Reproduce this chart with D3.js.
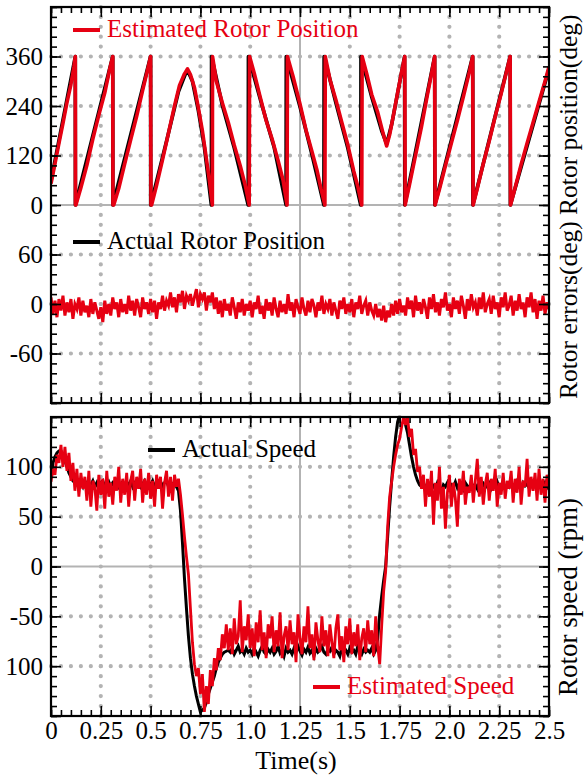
<!DOCTYPE html>
<html>
<head>
<meta charset="utf-8">
<script src="https://cdn.jsdelivr.net/npm/d3@7"></script>
<style>
    body { margin: 0; background: #fff; }
    svg { display: block; }
    text { font-family: "Liberation Serif", "Times New Roman", serif; }
</style>
</head>
<body>
<div id="chart"></div>
<script>
// ---- data ----
var timeTicks = [0, 0.25, 0.5, 0.75, 1.0, 1.25, 1.5, 1.75, 2.0, 2.25, 2.5];
var timeTickLabels = ['0', '0.25', '0.5', '0.75', '1.0', '1.25', '1.5', '1.75', '2.0', '2.25', '2.5'];
var posTicks = [0, 120, 240, 360];
var posTickLabels = ['0', '120', '240', '360'];
var errTicks = [-60, 0, 60];
var errTickLabels = ['-60', '0', '60'];
var speedTicks = [-100, -50, 0, 50, 100];
var speedTickLabels = ['100', '-50', '0', '50', '100'];

// rotor position (deg), [time s, angle]
var posEst = [
    [0, 52], [0.02, 100], [0.04, 150], [0.06, 198], [0.08, 248], [0.10, 292], [0.115, 335], [0.122, 360], [0.123, 0],
    [0.125, 0], [0.15, 42], [0.18, 96], [0.21, 160], [0.24, 218], [0.27, 272], [0.295, 330], [0.31, 360], [0.311, 0],
    [0.315, 0], [0.34, 40], [0.37, 100], [0.40, 158], [0.43, 215], [0.46, 278], [0.485, 328], [0.50, 360], [0.502, 0],
    [0.505, 0], [0.53, 48], [0.56, 110], [0.59, 175], [0.62, 240], [0.645, 290], [0.67, 318], [0.685, 330], [0.70, 316],
    [0.72, 285], [0.74, 235], [0.76, 180], [0.78, 112], [0.795, 60], [0.81, 0], [0.811, 360],
    [0.83, 300], [0.86, 248], [0.89, 200], [0.92, 145], [0.95, 95], [0.975, 48], [0.995, 0], [0.997, 360],
    [1.02, 320], [1.05, 262], [1.08, 205], [1.11, 160], [1.14, 108], [1.165, 60], [1.185, 0], [1.187, 360],
    [1.215, 312], [1.25, 245], [1.28, 182], [1.31, 130], [1.335, 85], [1.355, 40], [1.375, 0], [1.377, 360],
    [1.40, 305], [1.43, 255], [1.46, 200], [1.49, 146], [1.52, 82], [1.54, 45], [1.56, 0], [1.562, 360],
    [1.585, 318], [1.61, 268], [1.64, 225], [1.665, 178], [1.685, 143], [1.70, 170], [1.72, 220], [1.74, 272],
    [1.76, 322], [1.776, 360], [1.778, 0],
    [1.80, 50], [1.83, 120], [1.86, 190], [1.89, 268], [1.91, 318], [1.926, 360], [1.928, 0],
    [1.95, 38], [1.98, 95], [2.01, 150], [2.04, 205], [2.07, 262], [2.10, 322], [2.117, 360], [2.119, 0],
    [2.14, 40], [2.17, 100], [2.20, 155], [2.23, 215], [2.26, 270], [2.29, 330], [2.305, 360], [2.307, 0],
    [2.33, 42], [2.36, 98], [2.39, 150], [2.42, 200], [2.45, 250], [2.48, 300], [2.5, 335]
];
var posAct = [
    [0, 58], [0.122, 360], [0.1225, 0], [0.31, 360], [0.3105, 0], [0.50, 360], [0.5005, 0],
    [0.58, 155], [0.64, 275], [0.675, 318], [0.69, 322], [0.71, 300], [0.74, 228], [0.77, 140], [0.805, 0],
    [0.806, 360], [0.86, 242], [0.92, 138], [0.99, 0], [0.991, 360], [1.06, 240], [1.12, 140], [1.18, 0],
    [1.181, 360], [1.25, 238], [1.31, 122], [1.37, 0], [1.371, 360], [1.43, 248], [1.49, 138], [1.555, 0],
    [1.556, 360], [1.61, 262], [1.66, 180], [1.685, 148], [1.71, 195], [1.775, 360], [1.776, 0],
    [1.926, 360], [1.927, 0], [2.117, 360], [2.118, 0], [2.305, 360], [2.306, 0], [2.5, 330]
];

// sampled every 0.01 s from t = 0 to 2.5
var sampleStep = 0.01;
var rotorError = [
    8, -12, 4, -16, 6, -8, 10, -14, 2, -10,
    6, -18, 0, -6, 8, -14, 4, -10, -2, -16,
    6, -12, 2, -8, -18, -4, -22, 4, -12, 0,
    -14, 8, -6, 2, -16, 6, -10, 0, -12, 10,
    -8, 4, -14, 6, -4, -16, 8, -6, 2, -12,
    6, -10, 4, -18, 2, -6, 10, -8, 4, -2,
    14, -4, 8, -10, 12, 2, 16, -6, 10, 4,
    12, -2, 8, 18, -4, 12, 6, 14, -8, 10,
    2, 14, -6, 8, -12, 4, -16, 6, -8, 0,
    -14, 8, -4, -18, 2, -10, 6, -14, 0, -8,
    4, -16, 2, -6, 10, -12, -2, -18, 6, -8,
    2, -14, 8, -6, -16, 4, -10, 0, -12, 12,
    -8, 2, -16, 6, -4, -12, 8, -6, -14, 4,
    -10, 6, -2, -16, 2, -8, 10, -12, 0, -6,
    6, -14, 2, -8, -18, 4, -6, 8, -12, 0,
    -10, 6, -16, 2, -6, 10, -12, -2, 4, -14,
    2, -8, -14, 0, -16, -6, -20, -2, -22, -8,
    -16, 0, -14, 4, -12, 6, -10, -2, -14, 8,
    -6, 4, -16, 10, -8, 2, -12, 6, -4, -18,
    8, -6, 12, -10, 2, -14, 6, -4, 14, -8,
    0, -16, 8, -6, 4, -12, 10, -2, -18, 6,
    -8, 12, -4, 2, -14, 8, -6, 14, -10, 0,
    6, -12, 10, -6, 2, -16, 8, -4, 14, -8,
    -2, 10, -14, 4, -8, 12, -6, 2, -16, 8,
    -4, 14, -10, 6, -18, 4, -8, 10, -12, 2,
    -6
];
var speedEst = [
    85, 98, 92, 112, 104, 122, 100, 120, 96, 114,
    86, 104, 76, 98, 70, 94, 78, 90, 66, 96,
    60, 86, 80, 56, 92, 72, 88, 58, 96, 70,
    84, 62, 90, 76, 100, 64, 88, 72, 94, 60,
    86, 96, 66, 90, 78, 98, 64, 88, 72, 94,
    68, 86, 60, 92, 78, 90, 58, 84, 96, 70,
    90, 66, 92, 80, 88, 72, 52, 30, 10, -8,
    -42, -76, -98, -110, -102, -128, -108, -146, -120, -138,
    -104, -120, -92, -104, -82, -94, -68, -82, -58, -84,
    -62, -88, -52, -78, -70, -34, -86, -60, -74, -48,
    -82, -62, -90, -56, -76, -44, -84, -66, -92, -58,
    -72, -50, -86, -64, -80, -46, -92, -70, -60, -84,
    -54, -78, -66, -96, -48, -72, -88, -60, -76, -40,
    -82, -68, -94, -56, -74, -86, -50, -80, -64, -90,
    -58, -76, -92, -62, -48, -84, -70, -96, -60, -78,
    -52, -88, -66, -80, -58, -94, -72, -62, -86, -54,
    -78, -64, -90, -50, -80, -98, -60, -25, -5, 40,
    70, 85, 100, 112, 122, 128, 140, 150, 142, 150,
    130, 138, 112, 118, 95, 100, 78, 92, 60, 88,
    70, 96, 42, 84, 66, 100, 58, 80, 38, 74,
    92, 60, 84, 68, 40, 88, 72, 96, 62, 80,
    74, 92, 64, 86, 108, 70, 90, 62, 82, 94,
    66, 88, 76, 98, 60, 84, 72, 94, 68, 86,
    78, 96, 64, 88, 74, 100, 62, 86, 80, 108,
    70, 90, 76, 94, 66, 98, 72, 88, 64, 92,
    80
];
var speedAct = [
    90, 104, 110, 114, 116, 116, 112, 106, 100, 94,
    90, 86, 84, 82, 80, 84, 80, 86, 82, 78,
    82, 86, 80, 84, 78, 84, 86, 80, 82, 85,
    80, 84, 82, 86, 80, 83, 85, 79, 84, 82,
    86, 80, 84, 82, 85, 80, 83, 86, 81, 84,
    82, 86, 80, 84, 82, 85, 81, 84, 86, 80,
    84, 82, 85, 80, 76, 56, 24, -12, -42, -70,
    -92, -108, -120, -130, -138, -146, -144, -142, -136, -128,
    -122, -116, -110, -102, -96, -92, -88, -86, -85, -84,
    -86, -82, -88, -84, -80, -86, -84, -88, -82, -86,
    -84, -88, -82, -86, -90, -84, -80, -86, -88, -83,
    -86, -82, -88, -85, -80, -87, -84, -90, -82, -86,
    -84, -88, -82, -86, -80, -85, -89, -83, -86, -81,
    -87, -84, -90, -82, -86, -84, -80, -86, -88, -83,
    -85, -81, -88, -84, -86, -90, -82, -86, -84, -88,
    -82, -86, -84, -88, -80, -85, -88, -83, -86, -84,
    -86, -82, -88, -84, -72, -48, -30, -14, 0, 30,
    60, 86, 110, 130, 145, 152, 152, 150, 142, 134,
    122, 110, 100, 92, 86, 82, 80, 84, 78, 82,
    76, 84, 80, 78, 84, 80, 76, 82, 80, 84,
    78, 82, 80, 85, 79, 83, 80, 77, 84, 81,
    79, 84, 80, 82, 78, 85, 80, 83, 79, 82,
    84, 78, 82, 80, 85, 79, 82, 84, 78, 83,
    80, 84, 79, 82, 86, 80, 78, 84, 81, 83,
    79, 82, 85, 80, 78, 84, 82, 80, 84, 79,
    82
];

// ---- layout ----
var width = 584, height = 778;
var left = 51, right = 549;
var top1 = 7, bottom1 = 403, divs1 = 8;
var top2 = 417, bottom2 = 716, divs2 = 6;
var red = '#e60012', grey = '#b3b3b3';
var tickFont = 25;

var svg = d3.select('#chart').append('svg')
    .attr('width', width)
    .attr('height', height);

var x = d3.scaleLinear().domain([0, 2.5]).range([left, right]);
var div1 = (bottom1 - top1) / divs1;
var yPos = d3.scaleLinear().domain([0, 360]).range([top1 + 4 * div1, top1 + div1]);
var yErr = d3.scaleLinear().domain([-60, 60]).range([top1 + 7 * div1, top1 + 5 * div1]);
var yDiv1 = d3.scaleLinear().domain([0, divs1]).range([bottom1, top1]);
var ySpd = d3.scaleLinear().domain([-150, 150]).range([bottom2, top2]);
var yDiv2 = d3.scaleLinear().domain([0, divs2]).range([bottom2, top2]);

function drawGrid(g, yDiv, nDiv, y0, y1) {
    var xMinorStep = (right - left) / 50;
    var yMinorStep = (y1 - y0) / (nDiv * 5);
    var cx = x(1.25), cy = yDiv(nDiv / 2);
    // dotted division lines
    timeTicks.slice(1, -1).forEach(function (t) {
        if (t === 1.25) return;
        g.append('line')
            .attr('x1', x(t)).attr('x2', x(t)).attr('y1', y0).attr('y2', y1)
            .attr('stroke', grey).attr('stroke-width', 4.2)
            .attr('stroke-linecap', 'round')
            .attr('stroke-dasharray', '0,' + yMinorStep);
    });
    d3.range(1, nDiv).forEach(function (k) {
        if (k === nDiv / 2) return;
        g.append('line')
            .attr('x1', left).attr('x2', right).attr('y1', yDiv(k)).attr('y2', yDiv(k))
            .attr('stroke', grey).attr('stroke-width', 4.2)
            .attr('stroke-linecap', 'round')
            .attr('stroke-dasharray', '0,' + xMinorStep);
    });
    // solid centre cross with small graduation marks
    g.append('line').attr('x1', cx).attr('x2', cx).attr('y1', y0).attr('y2', y1)
        .attr('stroke', grey).attr('stroke-width', 2);
    g.append('line').attr('x1', left).attr('x2', right).attr('y1', cy).attr('y2', cy)
        .attr('stroke', grey).attr('stroke-width', 2);
    g.append('g').attr('transform', 'translate(' + cx + ',0)')
        .call(d3.axisLeft(yDiv).tickValues(d3.range(1, nDiv * 5).map(function (i) { return i / 5; }))
            .tickSizeInner(-4).tickSizeOuter(0).tickFormat(''))
        .call(function (a) {
            a.select('.domain').remove();
            a.selectAll('line').attr('stroke', grey).attr('stroke-width', 2.4).attr('x1', 4);
        });
    g.append('g').attr('transform', 'translate(0,' + cy + ')')
        .call(d3.axisTop(x).tickValues(d3.range(1, 50).map(function (i) { return i * 0.05; }))
            .tickSizeInner(-4).tickSizeOuter(0).tickFormat(''))
        .call(function (a) {
            a.select('.domain').remove();
            a.selectAll('line').attr('stroke', grey).attr('stroke-width', 2.4).attr('y1', 4);
        });
}

function drawFrame(g, yDiv, nDiv, y0, y1) {
    var minorY = d3.range(0, nDiv * 5 + 1).map(function (i) { return i / 5; });
    var majorY = d3.range(0, nDiv + 1);
    var minorX = d3.range(0, 51).map(function (i) { return i * 0.05; });
    function strip(a) {
        a.select('.domain').remove();
        a.selectAll('line').attr('stroke', '#000').attr('stroke-width', 1.6);
    }
    [[d3.axisLeft, left, minorY, majorY, yDiv, true], [d3.axisRight, right, minorY, majorY, yDiv, true],
     [d3.axisTop, y0, minorX, timeTicks, x, false], [d3.axisBottom, y1, minorX, timeTicks, x, false]]
        .forEach(function (s) {
            var tr = s[5] ? 'translate(' + s[1] + ',0)' : 'translate(0,' + s[1] + ')';
            g.append('g').attr('transform', tr)
                .call(s[0](s[4]).tickValues(s[2]).tickSizeInner(-6).tickSizeOuter(0).tickFormat('')).call(strip);
            g.append('g').attr('transform', tr)
                .call(s[0](s[4]).tickValues(s[3]).tickSizeInner(-10).tickSizeOuter(0).tickFormat('')).call(strip);
        });
    g.append('rect')
        .attr('x', left).attr('y', y0).attr('width', right - left).attr('height', y1 - y0)
        .attr('fill', 'none').attr('stroke', '#000').attr('stroke-width', 2.2);
}

function labelAxis(g, scale, values, labels) {
    g.append('g').attr('transform', 'translate(' + left + ',0)')
        .call(d3.axisLeft(scale).tickValues(values).tickSize(0).tickPadding(8)
            .tickFormat(function (d, i) { return labels[i]; }))
        .call(function (a) {
            a.select('.domain').remove();
            a.selectAll('text').attr('font-size', tickFont).attr('font-family', '"Liberation Serif", serif').attr('fill', '#000');
        });
}

function legend(g, xs, y, label, color) {
    g.append('line').attr('x1', xs).attr('x2', xs + 27).attr('y1', y).attr('y2', y)
        .attr('stroke', color).attr('stroke-width', 4);
    g.append('text').attr('x', xs + 34).attr('y', y + 7)
        .attr('font-size', 25).attr('fill', color).text(label);
}

svg.append('defs').call(function (d) {
    d.append('clipPath').attr('id', 'clip1').append('rect')
        .attr('x', left).attr('y', top1).attr('width', right - left).attr('height', bottom1 - top1);
    d.append('clipPath').attr('id', 'clip2').append('rect')
        .attr('x', left).attr('y', top2).attr('width', right - left).attr('height', bottom2 - top2);
});

// ---- top panel: position + error ----
var g1 = svg.append('g');
drawGrid(g1, yDiv1, divs1, top1, bottom1);

var posLine = d3.line().x(function (d) { return x(d[0]); }).y(function (d) { return yPos(d[1]); });
var errLine = d3.line()
    .x(function (d, i) { return x(i * sampleStep); })
    .y(function (d) { return yErr(d); });

var p1 = g1.append('g').attr('clip-path', 'url(#clip1)');
p1.append('path').datum(posAct).attr('d', posLine)
    .attr('fill', 'none').attr('stroke', '#000').attr('stroke-width', 3.6).attr('stroke-linejoin', 'round');
p1.append('path').datum(posEst).attr('d', posLine)
    .attr('fill', 'none').attr('stroke', red).attr('stroke-width', 3.6).attr('stroke-linejoin', 'round');
p1.append('path').datum(rotorError).attr('d', errLine)
    .attr('fill', 'none').attr('stroke', red).attr('stroke-width', 3);

drawFrame(g1, yDiv1, divs1, top1, bottom1);
labelAxis(g1, yPos, posTicks, posTickLabels);
labelAxis(g1, yErr, errTicks, errTickLabels);
legend(g1, 73, 30, 'Estimated Rotor Position', red);
legend(g1, 73, 242, 'Actual Rotor Position', '#000');

// ---- bottom panel: speed ----
var g2 = svg.append('g');
drawGrid(g2, yDiv2, divs2, top2, bottom2);

var spdLine = d3.line()
    .x(function (d, i) { return x(i * sampleStep); })
    .y(function (d) { return ySpd(d); });
var p2 = g2.append('g').attr('clip-path', 'url(#clip2)');
p2.append('path').datum(speedAct).attr('d', spdLine)
    .attr('fill', 'none').attr('stroke', '#000').attr('stroke-width', 3);
p2.append('path').datum(speedEst).attr('d', spdLine)
    .attr('fill', 'none').attr('stroke', red).attr('stroke-width', 2.8);

drawFrame(g2, yDiv2, divs2, top2, bottom2);
labelAxis(g2, ySpd, speedTicks, speedTickLabels);
legend(g2, 148, 450, 'Actual Speed', '#000');
legend(g2, 313, 687, 'Estimated Speed', red);

// time axis labels
svg.append('g').attr('transform', 'translate(0,' + bottom2 + ')')
    .call(d3.axisBottom(x).tickValues(timeTicks).tickSize(0).tickPadding(5)
        .tickFormat(function (d, i) { return timeTickLabels[i]; }))
    .call(function (a) {
        a.select('.domain').remove();
        a.selectAll('text').attr('font-size', tickFont).attr('font-family', '"Liberation Serif", serif').attr('fill', '#000');
    });

svg.append('text').attr('x', 296).attr('y', 769).attr('text-anchor', 'middle')
    .attr('font-size', 26).text('Time(s)');
svg.append('text').attr('transform', 'translate(577,399) rotate(-90)')
    .attr('font-size', 25.5).text('Rotor errors(deg) Rotor position(deg)');
svg.append('text').attr('transform', 'translate(577,597) rotate(-90)')
    .attr('text-anchor', 'middle').attr('font-size', 27).text('Rotor speed (rpm)');
</script>
</body>
</html>
